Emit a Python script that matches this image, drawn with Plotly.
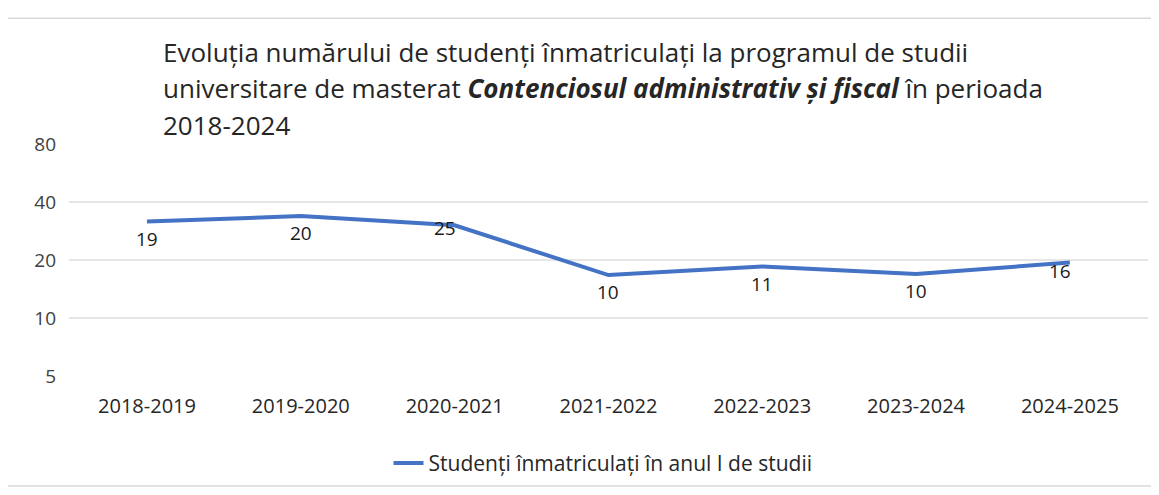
import math
import plotly.graph_objects as go

categories = ["2018-2019", "2019-2020", "2020-2021", "2021-2022", "2022-2023", "2023-2024", "2024-2025"]
# plotted positions of the line (as drawn on the log axis)
plotted_values = [31.7, 33.8, 30.3, 16.7, 18.5, 16.9, 19.4]
# data labels shown in the chart
label_texts = ["19", "20", "25", "10", "11", "10", "16"]
y_ticks = [5, 10, 20, 40, 80]
series_name = "Studenți înmatriculați în anul I de studii"
title_lines = [
    "Evoluția numărului de studenți înmatriculați la programul de studii",
    "universitare de masterat <b><i>Contenciosul administrativ și fiscal</i></b> în perioada",
    "2018-2024",
]

# label offsets (pixels) relative to each point: (dx, dy) where dy>0 means down
label_offsets = [(0, 18), (0, 17), (-10, 3), (0, 17), (0, 17), (0, 17), (-10, 8)]

FONT = "Open Sans"
OFF = 8  # page body margin
W, H = 1159 - OFF, 495 - OFF
L, R = 69 - OFF, W - (1140)
T = 143.5 - OFF
B = H - (378.5 - OFF)
plot_h = H - T - B
plot_w = W - L - R

def py(orig_y):
    return (H - B - (orig_y - OFF)) / plot_h

def px(orig_x):
    return ((orig_x - OFF) - L) / plot_w

fig = go.Figure()
fig.add_trace(go.Scatter(
    x=categories, y=plotted_values, mode="lines", name=series_name,
    line=dict(color="#4472C4", width=4),
))

annotations = []
for i, line in enumerate(title_lines):
    annotations.append(dict(
        text=line, xref="paper", yref="paper", x=px(161), y=py(50 + 37 * i),
        xanchor="left", yanchor="middle", showarrow=False,
        font=dict(family=FONT, size=26, color="#262626"),
    ))

for cat, val, txt, (dx, dy) in zip(categories, plotted_values, label_texts, label_offsets):
    annotations.append(dict(
        text=txt, x=cat, y=math.log10(val), xref="x", yref="y",
        xshift=dx, yshift=-dy, showarrow=False,
        xanchor="center", yanchor="middle",
        font=dict(family=FONT, size=19, color="#1a1a1a"),
    ))

fig.update_layout(
    width=W, height=H,
    margin=dict(l=L, r=R, t=T, b=B, pad=0),
    paper_bgcolor="white", plot_bgcolor="white",
    annotations=annotations,
    showlegend=True,
    legend=dict(orientation="h", x=px(603), xanchor="center", y=py(467), yanchor="middle",
                font=dict(family=FONT, size=21, color="#262626"), itemwidth=30),
    xaxis=dict(type="category", range=[-0.507, 6.508], showgrid=False, zeroline=False,
               showline=False, ticks="", ticklabelstandoff=16,
               tickfont=dict(family=FONT, size=20, color="#262626")),
    yaxis=dict(type="log", range=[math.log10(5), math.log10(80)], tickvals=y_ticks,
               ticktext=[str(v) for v in y_ticks],
               showgrid=True, gridcolor="#e6e6e6", gridwidth=2, zeroline=False,
               showline=False, ticks="", ticklabelstandoff=12,
               tickfont=dict(family=FONT, size=19, color="#404040")),
    shapes=[dict(type="rect", xref="paper", yref="paper",
                 x0=px(6), x1=px(1175), y0=py(490), y1=py(16),
                 line=dict(color="#d9d9d9", width=1.5), fillcolor="rgba(0,0,0,0)")],
)

fig.write_html("out.html")
